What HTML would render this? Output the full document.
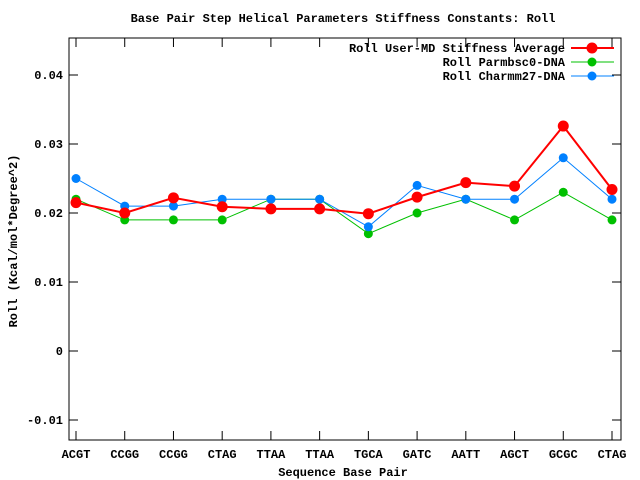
<!DOCTYPE html>
<html><head><meta charset="utf-8"><style>
body{margin:0;background:#fff;}
svg{display:block;font-family:"Liberation Mono","DejaVu Sans Mono",monospace;font-size:12px;font-weight:bold;}
</style></head><body>
<svg id="chart" width="640" height="480" xmlns="http://www.w3.org/2000/svg">
<text x="343" y="22" text-anchor="middle">Base Pair Step Helical Parameters Stiffness Constants: Roll</text>
<rect x="69" y="38" width="552" height="402" fill="none" stroke="#000" stroke-width="1"/>
<g id="axes"></g>
<g id="series"></g>
<text x="343" y="476" text-anchor="middle">Sequence Base Pair</text>
<text transform="translate(17,241) rotate(-90)" text-anchor="middle">Roll (Kcal/mol*Degree^2)</text>
<g id="legend"></g>
</svg>
<script>
const categories=["ACGT","CCGG","CCGG","CTAG","TTAA","TTAA","TGCA","GATC","AATT","AGCT","GCGC","CTAG"];
const userMD=[0.0215,0.0200,0.0222,0.0209,0.0206,0.0206,0.0199,0.0223,0.0244,0.0239,0.0326,0.0234];
const parmbsc0=[0.022,0.019,0.019,0.019,0.022,0.022,0.017,0.020,0.022,0.019,0.023,0.019];
const charmm27=[0.025,0.021,0.021,0.022,0.022,0.022,0.018,0.024,0.022,0.022,0.028,0.022];
const yTicks=[-0.01,0,0.01,0.02,0.03,0.04];
const yTickLabels=["-0.01","0","0.01","0.02","0.03","0.04"];
const NS="http://www.w3.org/2000/svg";
function yS(v){return 351-v*6900;}
function xS(i){return 76+i*(612-76)/(categories.length-1);}
function mk(tag,at,parent){const e=document.createElementNS(NS,tag);for(const k in at)e.setAttribute(k,at[k]);parent.appendChild(e);return e;}
const axes=document.getElementById('axes');
yTicks.forEach((t,i)=>{
 const y=yS(t);
 const l1=mk('line',{x1:69,x2:78,y1:y,y2:y,stroke:'#000'},axes);
 
 
 mk('line',{x1:612,x2:621,y1:y,y2:y,stroke:'#000'},axes);
 const tx=mk('text',{x:63,y:y+4,'text-anchor':'end'},axes);
 tx.textContent=yTickLabels[i];
 
 
});
categories.forEach((c,i)=>{
 const x=xS(i);
 mk('line',{x1:x,x2:x,y1:440,y2:431,stroke:'#000'},axes);
 mk('line',{x1:x,x2:x,y1:38,y2:47,stroke:'#000'},axes);
 const tx=mk('text',{x:x,y:458,'text-anchor':'middle'},axes);
 tx.textContent=c;
 
 
});
const ser=document.getElementById('series');
function draw(vals,color,w,r,name){
 const g=mk('g',{},ser);
 
 
 mk('polyline',{points:vals.map((v,i)=>xS(i)+','+yS(v)).join(' '),fill:'none',stroke:color,'stroke-width':w},g);
 vals.forEach((v,i)=>{const c=mk('circle',{cx:xS(i),cy:yS(v),r:r,fill:color},g);
  
  });
}
draw(parmbsc0,'#00c000',1,4.5,'series-parmbsc0');
draw(charmm27,'#0080ff',1,4.5,'series-charmm27');
draw(userMD,'#ff0000',2,5.5,'series-user-md');
const lg=document.getElementById('legend');
[["Roll User-MD Stiffness Average",'#ff0000',2,5.5],["Roll Parmbsc0-DNA",'#00c000',1,4.5],["Roll Charmm27-DNA",'#0080ff',1,4.5]].forEach((d,i)=>{
 const y=48+i*14;
 const g=mk('g',{},lg);
 
 
 const t=mk('text',{x:565,y:y+4,'text-anchor':'end'},g);t.textContent=d[0];
 mk('line',{x1:571,x2:614,y1:y,y2:y,stroke:d[1],'stroke-width':d[2]},g);
 mk('circle',{cx:592,cy:y,r:d[3],fill:d[1]},g);
});
</script>
</body></html>
